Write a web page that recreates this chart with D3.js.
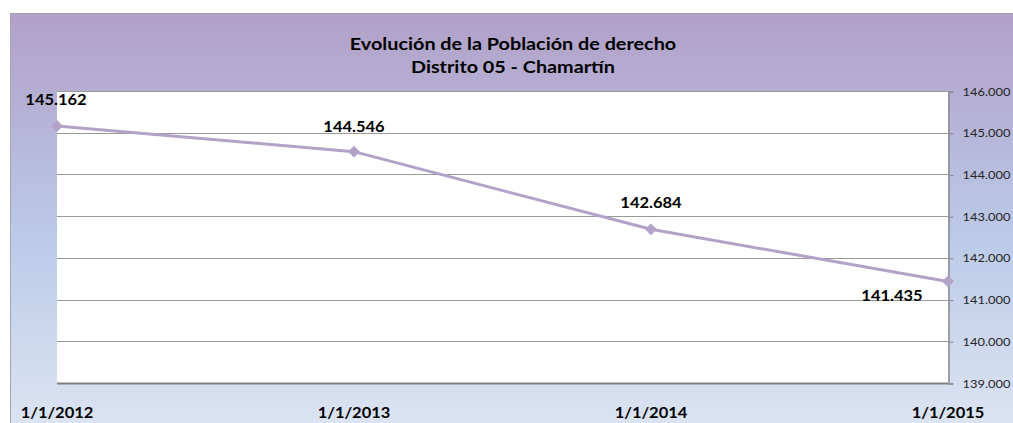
<!DOCTYPE html>
<html>
<head>
<meta charset="utf-8">
<script src="https://cdn.jsdelivr.net/npm/d3@7"></script>
<style>
  body { margin: 0; background: #fff; }
  svg { display: block; font-family: Lato, "Open Sans", sans-serif; }
</style>
</head>
<body>
<svg id="chart" width="1013" height="423"></svg>
<script>
// data
const dates = ['1/1/2012', '1/1/2013', '1/1/2014', '1/1/2015'];
const poblacion = [145162, 144546, 142684, 141435];
const yTicks = [139000, 140000, 141000, 142000, 143000, 144000, 145000, 146000];
const titleLines = ['Evolución de la Población de derecho', 'Distrito 05 - Chamartín'];

const fmt = v => d3.format(',')(v).replace(/,/g, '.');
const fmt3 = v => d3.format(',.0f')(v).replace(/,/g, '.');

const svg = d3.select('#chart');
const plot = {left: 57, top: 91, right: 948, bottom: 383};

// the original text is a bit wider than Lato, stretch it sideways
const stretch = (sel, fx, fy, s) =>
  sel.attr('transform', (d, i) => `translate(${fx(d, i)}, ${fy(d, i)}) scale(${s}, 1)`);

// background gradient
const defs = svg.append('defs');
const grad = defs.append('linearGradient')
  .attr('id', 'bg').attr('x1', 0).attr('y1', 0).attr('x2', 0).attr('y2', 1);
grad.append('stop').attr('offset', '0%').attr('stop-color', '#b1a0c7');
grad.append('stop').attr('offset', '55%').attr('stop-color', '#bccbe8');
grad.append('stop').attr('offset', '100%').attr('stop-color', '#dde5f3');

svg.append('rect')
  .attr('x', 10.5).attr('y', 13.5)
  .attr('width', 1010).attr('height', 420)
  .attr('fill', 'url(#bg)')
  .attr('stroke', '#a6a6a6');

const x = d3.scalePoint().domain(dates).range([plot.left, plot.right]);
const y = d3.scaleLinear().domain([139000, 146000]).range([plot.bottom, plot.top]);

// plot area
svg.append('rect')
  .attr('x', plot.left).attr('y', plot.top)
  .attr('width', plot.right - plot.left).attr('height', plot.bottom - plot.top)
  .attr('fill', '#fff');

// gridlines
svg.append('g')
  .selectAll('line')
  .data(yTicks)
  .join('line')
  .attr('x1', plot.left).attr('x2', plot.right)
  .attr('y1', d => Math.round(y(d)) + 0.5).attr('y2', d => Math.round(y(d)) + 0.5)
  .attr('stroke', d => d === 139000 ? '#808080' : '#999')
  .attr('stroke-width', d => d === 139000 ? 2 : 1);

// right y axis
const yAxis = svg.append('g')
  .attr('transform', `translate(${plot.right + 0.5}, 0.5)`)
  .call(d3.axisRight(y).tickValues(yTicks).tickFormat(fmt3).tickSize(5).tickPadding(7));
yAxis.select('.domain').attr('stroke', '#8c8c8c').attr('stroke-width', 1.5);
yAxis.selectAll('.tick line').attr('stroke', '#8c8c8c');
yAxis.selectAll('.tick text')
  .attr('fill', '#262626')
  .attr('transform', 'scale(1.17, 1)')
  .style('font-family', 'Lato, sans-serif')
  .style('font-size', '11px');

// x labels
svg.append('g')
  .selectAll('text')
  .data(dates)
  .join('text')
  .call(stretch, d => x(d), () => 418, 1.1)
  .attr('text-anchor', 'middle')
  .attr('font-weight', 'bold')
  .attr('font-size', '15px')
  .attr('fill', '#000')
  .text(d => d);

// title
svg.append('g')
  .selectAll('text')
  .data(titleLines)
  .join('text')
  .call(stretch, () => 513, (d, i) => 50 + i * 23, 1.2)
  .attr('text-anchor', 'middle')
  .attr('font-weight', 'bold')
  .attr('font-size', '16.5px')
  .attr('fill', '#000')
  .text(d => d);

const pts = dates.map((d, i) => ({date: d, value: poblacion[i]}));

// line
svg.append('path')
  .datum(pts)
  .attr('fill', 'none')
  .attr('stroke', '#b3a2c7')
  .attr('stroke-width', 3)
  .attr('stroke-linejoin', 'round')
  .attr('d', d3.line().x(d => x(d.date)).y(d => y(d.value)));

// diamond markers
svg.append('g')
  .selectAll('path')
  .data(pts)
  .join('path')
  .attr('transform', d => `translate(${x(d.date)}, ${y(d.value)})`)
  .attr('d', d3.symbol(d3.symbolDiamond2, 90))
  .attr('fill', '#b3a2c7');

// data labels
const labelDx = [-1, 0, 0, -56];
const labelDy = [-21, -20, -21, 20];
svg.append('g')
  .selectAll('text')
  .data(pts)
  .join('text')
  .call(stretch, (d, i) => x(d.date) + labelDx[i], (d, i) => y(d.value) + labelDy[i], 1.1)
  .attr('text-anchor', 'middle')
  .attr('font-weight', 'bold')
  .attr('font-size', '15px')
  .attr('fill', '#000')
  .text(d => fmt(d.value));
</script>
</body>
</html>
